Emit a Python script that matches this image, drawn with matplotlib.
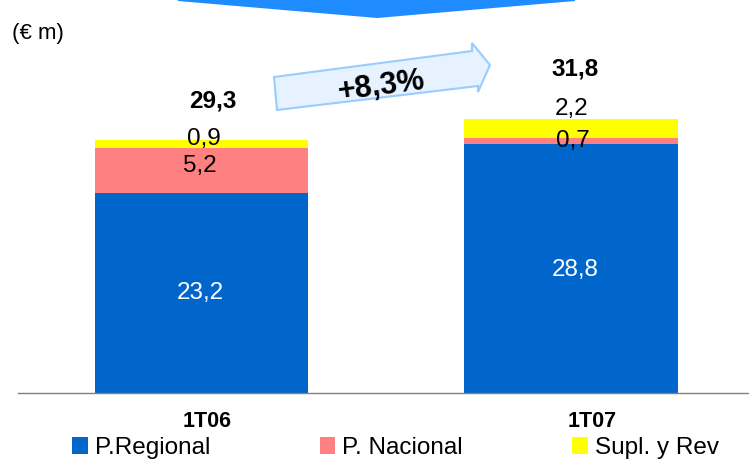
import numpy as np
import matplotlib
matplotlib.use('Agg')
import matplotlib.pyplot as plt
import matplotlib.patches as mpatches

plt.rcParams['font.family'] = ['Liberation Sans', 'DejaVu Sans']

#--------------------------------------------
# Data (EUR millions)
#--------------------------------------------
categories = ['1T06', '1T07']
regional = [23.2, 28.8]
nacional = [5.2, 0.7]
suplementos = [0.9, 2.2]
totals = [29.3, 31.8]
growth_label = '+8,3%'
series_names = ['P.Regional', 'P. Nacional', 'Supl. y Rev']
colors = ['#0066CC', '#FF8080', '#FFFF00']

W, H = 749, 461


def fmt(v):
    return '{:.1f}'.format(v).replace('.', ',')


def px(x, y):
    # pixel (top-left origin) -> figure fraction
    return (x / W, 1 - y / H)


fig = plt.figure(figsize=(W / 100, H / 100), dpi=100)

# axes placed so the baseline sits where the reference draws it
ax = fig.add_axes([18 / W, (H - 393) / H, (W - 18) / W, 393 / H])
ax.set_xlim(-0.4966, 1.4817)
ax.set_ylim(0, 45.51)
for s in ['top', 'right', 'left']:
    ax.spines[s].set_visible(False)
ax.spines['bottom'].set_color('#808080')
ax.spines['bottom'].set_linewidth(1.0)
ax.set_xticks([])
ax.set_yticks([])

x = np.arange(len(categories))
width = 0.5765
series = [regional, nacional, suplementos]
bottom = np.zeros(len(categories))
handles = []
for vals, col, name in zip(series, colors, series_names):
    b = ax.bar(x, vals, width, bottom=bottom, color=col, label=name, linewidth=0)
    handles.append(b)
    bottom = bottom + np.array(vals)

# label nudges in pixels (dx, dy up), per series then per bar
seg_offsets = [
    [(-1.5, -0.5), (4, -1.5)],
    [(-1.5, 4.5), (2, 0.5)],
    [(2.5, 4.5), (1, 19.5)],
]
seg_colors = ['white', 'black', 'black']
bottom = np.zeros(len(categories))
for vals, offs, tc in zip(series, seg_offsets, seg_colors):
    for i, v in enumerate(vals):
        ax.annotate(fmt(v), (x[i], bottom[i] + v / 2), xytext=offs[i],
                    textcoords='offset pixels', ha='center', va='center',
                    fontsize=17.5, color=tc)
    bottom = bottom + np.array(vals)

tot_offsets = [(11.5, 39), (4, 50)]
for i, t in enumerate(totals):
    ax.annotate(fmt(t), (x[i], bottom[i]), xytext=tot_offsets[i],
                textcoords='offset pixels', ha='center', va='center',
                fontsize=17.5, fontweight='bold')

cat_offsets = [(5.5, -28), (21, -28)]
for i, c in enumerate(categories):
    ax.annotate(c, (x[i], 0), xytext=cat_offsets[i], textcoords='offset pixels',
                ha='center', va='center', fontsize=15.5, fontweight='bold',
                annotation_clip=False)

# blue banner at the top
banner = [px(178, 0), px(575, 0), px(575, 1), px(377, 18), px(178, 1)]
fig.patches.append(mpatches.Polygon(banner, closed=True, transform=fig.transFigure,
                                    facecolor='#1E8CFF', edgecolor='none'))

# growth arrow
arrow = [px(274, 77), px(472, 51), px(472, 43), px(490, 65), px(478, 92),
         px(478, 86), px(277, 110)]
fig.patches.append(mpatches.Polygon(arrow, closed=True, transform=fig.transFigure,
                                    facecolor='#E6F2FF', edgecolor='#99CCFF',
                                    linewidth=1.5))
fig.text(*px(381, 86), growth_label, ha='center', va='center', fontsize=22,
         fontweight='bold', rotation=7.5)

fig.text(*px(12, 34), '(€ m)', ha='left', va='center', fontsize=16)

fig.legend(handles=handles, labels=series_names, loc='center left',
           bbox_to_anchor=px(72, 448), ncol=3, frameon=False, fontsize=17.5,
           handlelength=0.64, handleheight=0.72, handletextpad=0.3,
           columnspacing=4.5, borderpad=0, borderaxespad=0)

fig.savefig('out.png', dpi=100)
